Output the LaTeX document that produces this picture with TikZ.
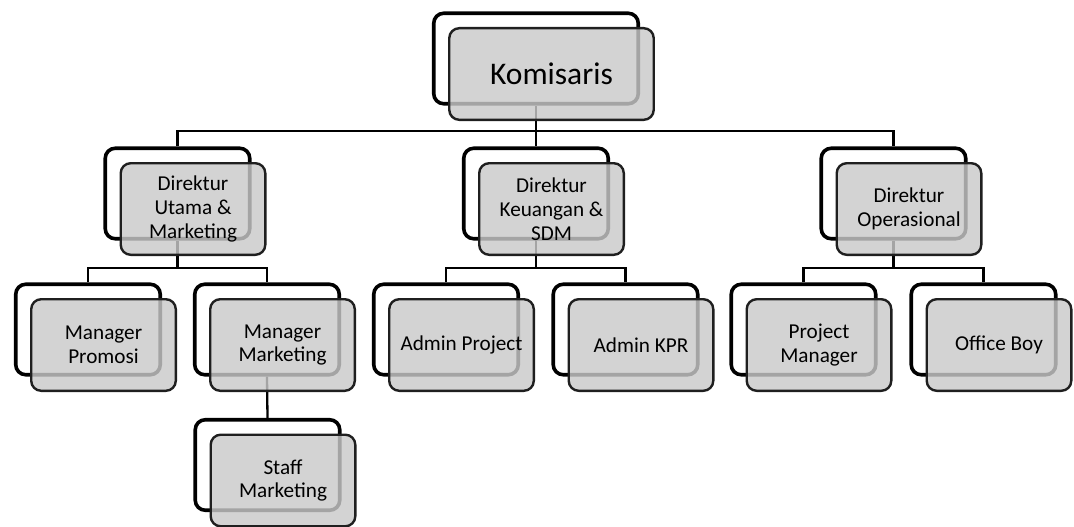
\documentclass[tikz,border=0pt]{standalone}
\usepackage{fontspec}
\setmainfont{Carlito}
\usetikzlibrary{backgrounds}
\begin{document}
\begin{tikzpicture}[x=1pt,y=-1pt,
  backbox/.style={draw=black,line width=3.6pt,rounded corners=10pt,minimum width=144.5pt,minimum height=90.5pt,inner sep=0pt},
  frontbox/.style={draw=black!88,line width=2.4pt,rounded corners=10pt,fill=black!21,fill opacity=0.82,text opacity=1,minimum width=144.6pt,minimum height=91.6pt,inner sep=0pt,align=center,font=\fontsize{21.2}{23.8}\selectfont},
  conn/.style={draw=black,line width=2.3pt}]
\useasboundingbox (0,0) rectangle (1074,527);
\coordinate (bus1) at (0,131);
\coordinate (bus2) at (0,268);
% back boxes
\node[backbox,minimum width=204.5pt] (kB) at (536,58.5) {};
\node[backbox] (d1B) at (177.5,193.5) {};
\node[backbox] (d2B) at (536,193.5) {};
\node[backbox] (d3B) at (893.5,193.5) {};
\node[backbox] (l1B) at (88,329.5) {};
\node[backbox] (l2B) at (267,329.5) {};
\node[backbox] (l3B) at (446,329.5) {};
\node[backbox] (l4B) at (625.5,329.5) {};
\node[backbox] (l5B) at (803.5,329.5) {};
\node[backbox] (l6B) at (983.5,329.5) {};
\node[backbox] (sB) at (267.5,465) {};
% front boxes
\node[frontbox,minimum width=204.5pt,font=\fontsize{31.5}{36}\selectfont] (k) at (551.5,74) {Komisaris};
\node[frontbox] (d1) at (193,209) {Direktur\\Utama \&\\Marketing};
\node[frontbox] (d2) at (551.5,209) {Direktur\\Keuangan \&\\SDM};
\node[frontbox] (d3) at (909,209) {Direktur\\Operasional};
\node[frontbox] (l1) at (103.5,345) {Manager\\Promosi};
\node[frontbox] (l2) at (282.5,345) {Manager\\Marketing};
\node[frontbox] (l3) at (461.5,345) {Admin Project};
\node[frontbox] (l4) at (641,345) {Admin KPR};
\node[frontbox] (l5) at (819,345) {Project\\Manager};
\node[frontbox] (l6) at (999,345) {Office Boy};
\node[frontbox] (s) at (283,480.5) {Staff\\Marketing};
% connectors
\begin{pgfonlayer}{background}
\draw[conn] (kB.south) -- (kB.south |- bus1);
\draw[conn] (d1B.north) |- (bus1 -| d3B.north) -- (d3B.north);
\draw[conn] (d2B.north) -- (d2B.north |- bus1);
\draw[conn] (d1B.south) -- (d1B.south |- bus2);
\draw[conn] (l1B.north) |- (bus2 -| l2B.north) -- (l2B.north);
\draw[conn] (d2B.south) -- (d2B.south |- bus2);
\draw[conn] (l3B.north) |- (bus2 -| l4B.north) -- (l4B.north);
\draw[conn] (d3B.south) -- (d3B.south |- bus2);
\draw[conn] (l5B.north) |- (bus2 -| l6B.north) -- (l6B.north);
\draw[conn] (l2B.south) -- (sB.north);
\end{pgfonlayer}
\end{tikzpicture}
\end{document}
